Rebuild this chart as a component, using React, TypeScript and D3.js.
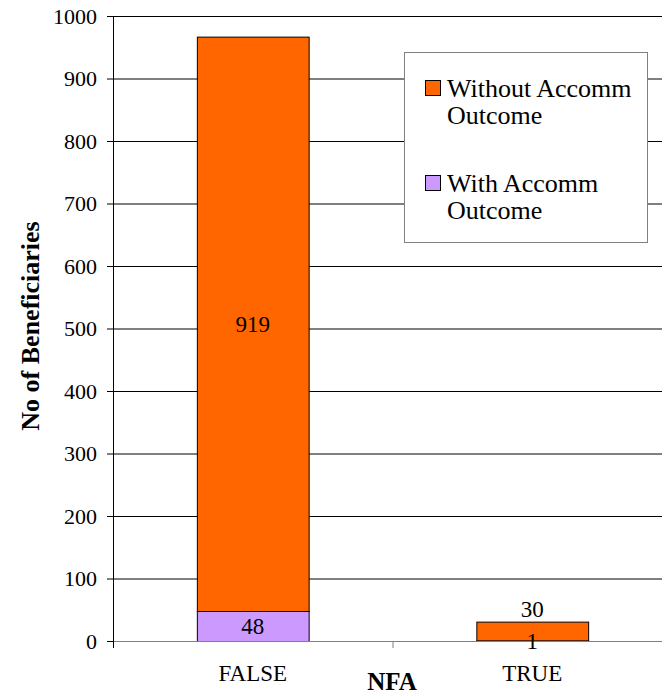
import React from "react";
import * as d3 from "d3";

const categories = ["FALSE", "TRUE"];
const withAccomm = [48, 1];
const withoutAccomm = [919, 30];
const yTicks = [0, 100, 200, 300, 400, 500, 600, 700, 800, 900, 1000];
const seriesNames = ["Without Accomm Outcome", "With Accomm Outcome"];
const colors = ["#FF6600", "#CC99FF"];

const W = 662;
const H = 694;
const left = 113;
const right = 672;
const top = 16;
const bottom = 641;
const font = "Liberation Serif";
const ts = { fontFamily: font };

export default function App() {
  const x = d3.scaleBand<string>().domain(categories).range([left, right]).paddingInner(0).paddingOuter(0);
  const y = d3.scaleLinear().domain([0, 1000]).range([bottom, top]);
  const bw = x.bandwidth() * 0.4;

  const data = categories.map((c, i) => ({ cat: c, with: withAccomm[i], without: withoutAccomm[i] }));
  const stack = d3.stack<any>().keys(["with", "without"])(data);

  return (
    <svg
      width={W}
      height={H}
      style={{ position: "absolute", left: 0, top: 0, background: "#fff", fontFamily: font }}
    >
      {/* gridlines */}
      {yTicks.map((t) =>
        t === 0 ? null : (
          <line key={"g" + t} x1={left} x2={right} y1={y(t) + 0.5} y2={y(t) + 0.5} stroke="#000" strokeWidth={1} />
        )
      )}
      {/* y ticks and labels */}
      {yTicks.map((t) => (
        <g key={"t" + t}>
          <line x1={left - 6} x2={left} y1={y(t) + 0.5} y2={y(t) + 0.5} stroke="#000" />
          <text x={97} y={y(t)} dy="0.35em" textAnchor="end" fontSize={22} style={ts}>
            {t}
          </text>
        </g>
      ))}
      {/* bars */}
      {stack.map((s, si) =>
        s.map((d, i) => (
          <rect
            key={si + "-" + i}
            x={(x(categories[i]) as number) + (x.bandwidth() - bw) / 2 + 0.5}
            y={y(d[1]) + 0.5}
            width={bw}
            height={y(d[0]) - y(d[1])}
            fill={si === 0 ? colors[1] : colors[0]}
            stroke="#000"
            strokeWidth={1}
          />
        ))
      )}
      {/* x axis */}
      <line x1={left} x2={right} y1={bottom + 0.5} y2={bottom + 0.5} stroke="#808080" />
      {[0, 1, 2].map((k) => {
        const xx = left + k * x.bandwidth();
        return <line key={"xt" + k} x1={xx + 0.5} x2={xx + 0.5} y1={bottom} y2={bottom + 7} stroke="#808080" />;
      })}
      {/* y axis */}
      <line x1={left + 0.5} x2={left + 0.5} y1={top} y2={bottom + 7} stroke="#000" />
      {/* data labels */}
      {data.map((d, i) => {
        const cx = (x(d.cat) as number) + x.bandwidth() / 2;
        const total = d.with + d.without;
        const large = d.without > 100;
        return (
          <g key={"lbl" + i}>
            <text x={cx} y={y(d.with / 2)} dy="0.35em" textAnchor="middle" fontSize={23} style={ts}>
              {d.with}
            </text>
            <text
              x={cx}
              y={large ? y(d.with + d.without / 2) : y(total) - 13}
              dy="0.35em"
              textAnchor="middle"
              fontSize={23}
              style={ts}
            >
              {d.without}
            </text>
          </g>
        );
      })}
      {/* category labels */}
      {categories.map((c) => (
        <text key={c} x={(x(c) as number) + x.bandwidth() / 2} y={681} textAnchor="middle" fontSize={23} style={ts}>
          {c}
        </text>
      ))}
      {/* axis titles */}
      <text x={392} y={690} textAnchor="middle" fontSize={25} fontWeight="bold" style={ts}>
        NFA
      </text>
      <text
        transform={`translate(39,326) rotate(-90)`}
        textAnchor="middle"
        fontSize={26}
        fontWeight="bold"
        style={ts}
      >
        No of Beneficiaries
      </text>
      {/* legend */}
      <rect x={404.5} y={52.5} width={243} height={190} fill="#fff" stroke="#808080" />
      {seriesNames.map((n, i) => {
        const words = n.split(" ");
        const line1 = words.slice(0, 2).join(" ");
        const line2 = words.slice(2).join(" ");
        const by = 97 + i * 95;
        return (
          <g key={n}>
            <rect x={425.5} y={by - 16.5} width={15} height={15} fill={colors[i]} stroke="#000" />
            <text x={447} y={by} fontSize={26} style={ts}>
              {line1}
            </text>
            <text x={447} y={by + 27} fontSize={26} style={ts}>
              {line2}
            </text>
          </g>
        );
      })}
    </svg>
  );
}
